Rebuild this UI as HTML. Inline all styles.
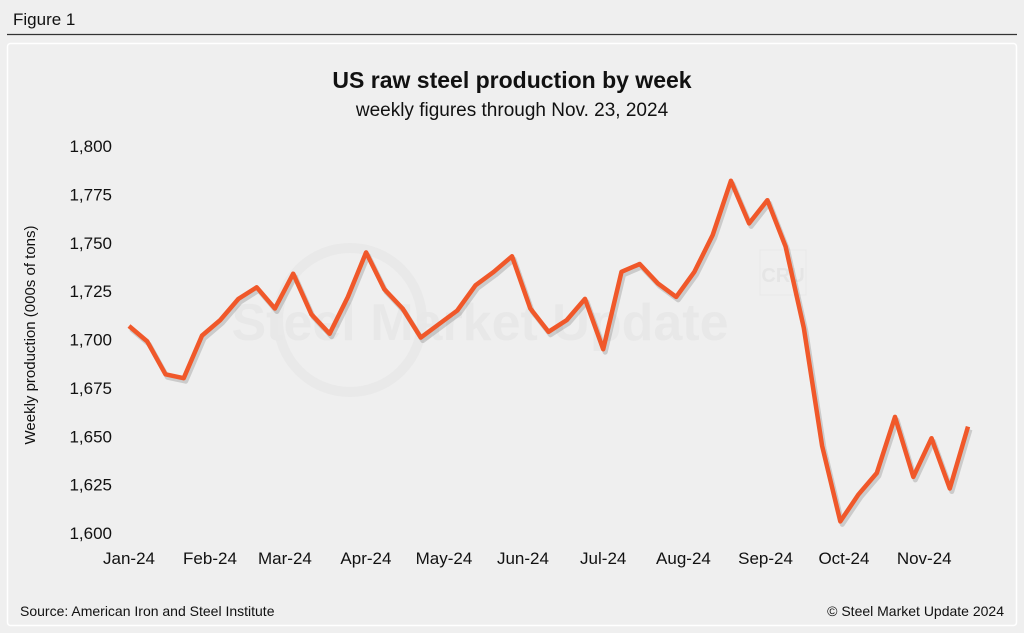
<!DOCTYPE html>
<html><head><meta charset="utf-8"><style>
html,body{margin:0;padding:0;background:#efefef;}
body{width:1024px;height:633px;overflow:hidden;position:relative;font-family:"Liberation Sans",Arial,sans-serif;}
</style></head><body>
<svg width="1024" height="633" xmlns="http://www.w3.org/2000/svg" style="position:absolute;left:0;top:0">
<rect x="0" y="0" width="1024" height="633" fill="#efefef"/>
<text x="13" y="25" font-size="17" fill="#111">Figure 1</text>
<line x1="7" y1="34.5" x2="1017" y2="34.5" stroke="#333" stroke-width="1.2"/>
<rect x="7.5" y="43.5" width="1009" height="582" rx="3" fill="#efefef" stroke="#fff" stroke-width="1.5"/>
<g opacity="0.5">
<circle cx="350" cy="320" r="72" fill="none" stroke="#e4e4e4" stroke-width="10"/>
<text x="480" y="340" font-size="52" font-weight="bold" fill="#e2e2e2" text-anchor="middle">Steel Market Update</text>
<rect x="760" y="250" width="46" height="45" fill="none" stroke="#e2e2e2"/>
<text x="783" y="282" font-size="20" font-weight="bold" fill="#dcdcdc" text-anchor="middle">CRU</text>
</g>
<text x="512" y="88" font-size="23" font-weight="bold" fill="#111" text-anchor="middle">US raw steel production by week</text>
<text x="512" y="116" font-size="19" fill="#111" text-anchor="middle">weekly figures through Nov. 23, 2024</text>
<text transform="translate(35,335) rotate(-90)" font-size="15" fill="#111" text-anchor="middle">Weekly production (000s of tons)</text>
<g id="yticks"></g>
<g id="xticks"></g>
<g id="series"></g>
<text x="20" y="616" font-size="14" fill="#111">Source: American Iron and Steel Institute</text>
<text x="1004" y="616" font-size="14" fill="#111" text-anchor="end">© Steel Market Update 2024</text>
</svg>
<script>
const values = [1707,1699,1682,1680,1702,1710,1721,1727,1716,1734,1713,1703,1722,1745,1726,1716,1701,1708,1715,1728,1735,1743,1716,1704,1710,1721,1695,1735,1739,1729,1722,1735,1754,1782,1760,1772,1748,1706,1645,1606,1620,1631,1660,1629,1649,1623,1655];
const yTicks = [1600,1625,1650,1675,1700,1725,1750,1775,1800];
const yTickLabels = ["1,600","1,625","1,650","1,675","1,700","1,725","1,750","1,775","1,800"];
const xTickLabels = ["Jan-24","Feb-24","Mar-24","Apr-24","May-24","Jun-24","Jul-24","Aug-24","Sep-24","Oct-24","Nov-24"];
const xTickWeeks = [0,4.44,8.55,12.99,17.27,21.6,26.0,30.4,34.9,39.2,43.6];

const NS="http://www.w3.org/2000/svg";
const x0=129, x1=968, yTop=146, yBot=533, vMin=1600, vMax=1800;
function xScale(i){return x0+(x1-x0)*i/(values.length-1);}
function yScale(v){return yBot-(v-vMin)/(vMax-vMin)*(yBot-yTop);}

const yg=document.getElementById('yticks');
yTicks.forEach((t,i)=>{
  const el=document.createElementNS(NS,'text');
  el.setAttribute('x',112);el.setAttribute('y',yScale(t)+6);
  el.setAttribute('font-size','17');el.setAttribute('fill','#111');el.setAttribute('text-anchor','end');
  el.textContent=yTickLabels[i];
  
  
  yg.appendChild(el);
});
const xg=document.getElementById('xticks');
xTickLabels.forEach((l,i)=>{
  const el=document.createElementNS(NS,'text');
  el.setAttribute('x',xScale(xTickWeeks[i]));el.setAttribute('y',564);
  el.setAttribute('font-size','17');el.setAttribute('fill','#111');el.setAttribute('text-anchor','middle');
  el.textContent=l;
  
  
  xg.appendChild(el);
});
const pts=values.map((v,i)=>xScale(i).toFixed(1)+','+yScale(v).toFixed(1)).join(' ');
const sg=document.getElementById('series');
const sh=document.createElementNS(NS,'polyline');
sh.setAttribute('points',pts);sh.setAttribute('fill','none');sh.setAttribute('stroke','rgba(0,0,0,0.15)');
sh.setAttribute('stroke-width','5');sh.setAttribute('transform','translate(2,3)');sh.setAttribute('stroke-linejoin','round');


sg.appendChild(sh);
const pl=document.createElementNS(NS,'polyline');
pl.setAttribute('points',pts);pl.setAttribute('fill','none');pl.setAttribute('stroke','#f0582a');
pl.setAttribute('stroke-width','4.5');pl.setAttribute('stroke-linejoin','round');


sg.appendChild(pl);
</script>
</body></html>
